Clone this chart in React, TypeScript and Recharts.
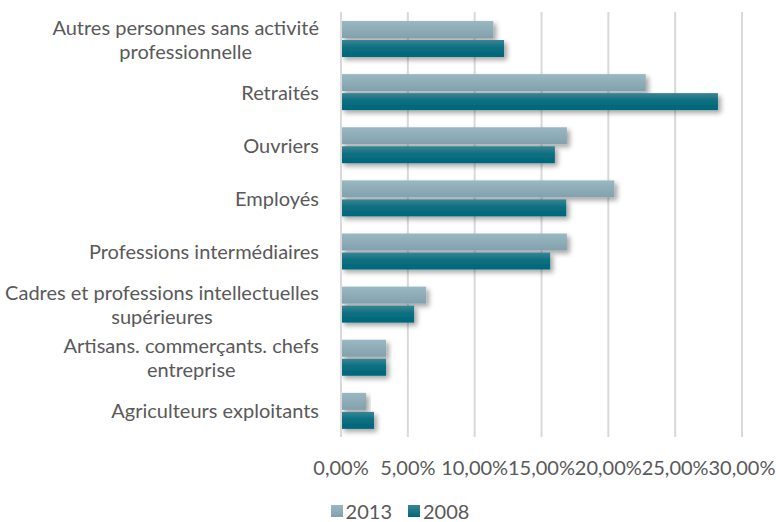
import { BarChart, Bar, XAxis, YAxis, CartesianGrid, Legend } from "recharts";

// categories, top to bottom (\n = line break as wrapped in the original)
const categories = [
  "Autres personnes sans activité\nprofessionnelle",
  "Retraités",
  "Ouvriers",
  "Employés",
  "Professions intermédiaires",
  "Cadres et professions intellectuelles\nsupérieures",
  "Artisans. commerçants. chefs\nentreprise",
  "Agriculteurs exploitants",
];
const values2013 = [0.114, 0.228, 0.169, 0.2045, 0.169, 0.0637, 0.0337, 0.0187];
const values2008 = [0.122, 0.282, 0.16, 0.1685, 0.1565, 0.0547, 0.0337, 0.0247];
const xTicks = [0, 0.05, 0.1, 0.15, 0.2, 0.25, 0.3];
const seriesNames = ["2013", "2008"];

const data = categories.map((name, i) => ({
  name,
  v2013: values2013[i],
  v2008: values2008[i],
}));

const FONT = "Lato";
const FONT_SIZE = 20;
const TEXT_COLOR = "#595959";

let ctx: CanvasRenderingContext2D | null = null;
const measure = (t: string) => {
  if (!ctx) ctx = document.createElement("canvas").getContext("2d");
  if (!ctx) return t.length * 9;
  ctx.font = `${FONT_SIZE}px ${FONT}`;
  return ctx.measureText(t).width;
};

const pct = (v: number) => `${(v * 100).toFixed(2).replace(".", ",")}%`;

const CategoryTick = ({ x, y, payload }: any) => {
  const lines: string[] = String(payload.value).split("\n");
  const maxW = Math.max(...lines.map(measure));
  const right = x - 22;
  const cx = right - maxW / 2;
  const lh = 24;
  const y0 = y - ((lines.length - 1) * lh) / 2;
  return (
    <g>
      {lines.map((l, i) => (
        <text
          key={i}
          x={cx}
          y={y0 + i * lh}
          textAnchor="middle"
          dominantBaseline="central"
          fill={TEXT_COLOR}
          fontFamily={FONT}
          fontSize={FONT_SIZE}
        >
          {l}
        </text>
      ))}
    </g>
  );
};

const ValueTick = ({ x, y, payload }: any) => (
  <text
    x={x}
    y={y + 30}
    textAnchor="middle"
    dominantBaseline="central"
    fill={TEXT_COLOR}
    fontFamily={FONT}
    fontSize={FONT_SIZE}
  >
    {pct(payload.value)}
  </text>
);

const barShape = (gradId: string) => (props: any) => {
  const { x, y, width, height } = props;
  if (!width || width <= 0) return <g />;
  return (
    <rect
      x={x}
      y={y}
      width={width}
      height={height}
      fill={`url(#${gradId})`}
      filter="url(#barShadow)"
    />
  );
};

const legendSwatch: Record<string, string> = {
  "2013": "linear-gradient(#9ab8c2, #82a1ac)",
  "2008": "linear-gradient(#3b8594, #00677a)",
};

const renderLegend = () => (
  <div
    style={{
      height: 40,
      boxSizing: "border-box",
      paddingTop: 18,
      display: "flex",
      justifyContent: "center",
      alignItems: "center",
      fontFamily: FONT,
      fontSize: FONT_SIZE,
      color: TEXT_COLOR,
      lineHeight: "20px",
    }}
  >
    {seriesNames.map((s) => (
      <div key={s} style={{ display: "flex", alignItems: "center", margin: "0 8px" }}>
        <span
          style={{
            width: 12,
            height: 12,
            background: legendSwatch[s],
            marginRight: 3,
            display: "inline-block",
          }}
        />
        <span>{s}</span>
      </div>
    ))}
  </div>
);

export default function App() {
  return (
    <div style={{ position: "absolute", left: 0, top: 0, width: 776, height: 522, background: "#fff" }}>
      <BarChart
        width={776}
        height={522}
        data={data}
        layout="vertical"
        margin={{ top: 12, right: 34, left: 0, bottom: 0 }}
        barSize={17}
        barGap={2}
      >
        <defs>
          <linearGradient id="g2013" x1="0" y1="0" x2="0" y2="1">
            <stop offset="0%" stopColor="#9ab8c2" />
            <stop offset="100%" stopColor="#82a1ac" />
          </linearGradient>
          <linearGradient id="g2008" x1="0" y1="0" x2="0" y2="1">
            <stop offset="0%" stopColor="#3b8594" />
            <stop offset="45%" stopColor="#0b6f80" />
            <stop offset="100%" stopColor="#00677a" />
          </linearGradient>
          <filter id="barShadow" x="-10%" y="-30%" width="130%" height="180%">
            <feDropShadow dx="3" dy="3" stdDeviation="2.5" floodColor="#000" floodOpacity="0.35" />
          </filter>
        </defs>
        <CartesianGrid horizontal={false} stroke="#d9d9d9" strokeWidth={2} />
        <XAxis
          type="number"
          domain={[0, 0.3]}
          ticks={xTicks}
          axisLine={false}
          tickLine={false}
          tickSize={0}
          tickMargin={0}
          height={45}
          interval={0}
          tick={<ValueTick />}
        />
        <YAxis
          type="category"
          dataKey="name"
          width={341}
          axisLine={{ stroke: "#d9d9d9", strokeWidth: 2 }}
          tickLine={false}
          tickSize={0}
          tickMargin={0}
          interval={0}
          tick={<CategoryTick />}
        />
        <Legend verticalAlign="bottom" height={40} wrapperStyle={{ left: 24, width: 752 }} content={renderLegend} />
        <Bar dataKey="v2013" name="2013" isAnimationActive={false} shape={barShape("g2013")} />
        <Bar dataKey="v2008" name="2008" isAnimationActive={false} shape={barShape("g2008")} />
      </BarChart>
    </div>
  );
}
